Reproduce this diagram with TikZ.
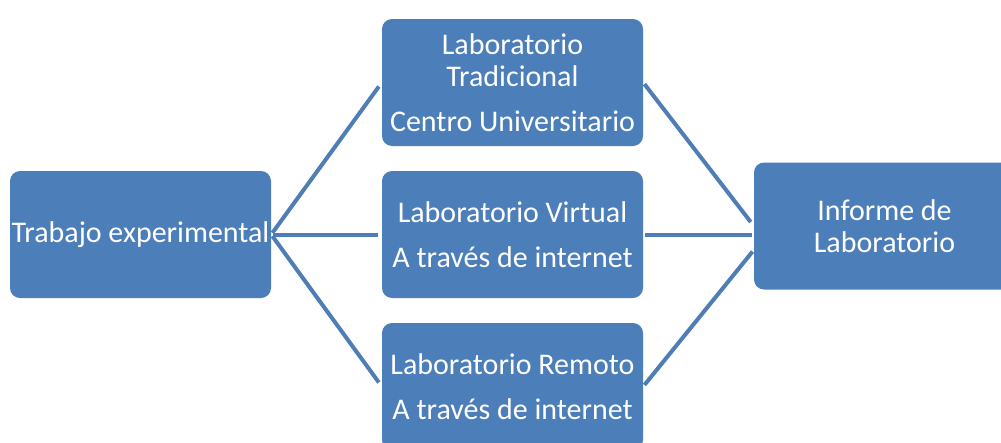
\documentclass[tikz,border=0pt]{standalone}
\usepackage{fontspec}
\setmainfont{Carlito}
\usetikzlibrary{calc}
\definecolor{boxblue}{HTML}{4C7EBA}
\definecolor{lineblue}{HTML}{4F7DB5}
\begin{document}
\begin{tikzpicture}[x=1pt,y=-1pt,
  box/.style={fill=boxblue, draw=none, rounded corners=10pt, minimum width=261pt, minimum height=127pt,
    text=white, align=center, inner sep=0pt, font=\fontsize{30}{32}\selectfont},
  link/.style={draw=lineblue, line width=4pt}]
\useasboundingbox (0,0) rectangle (1001,442);
\clip (0,0) rectangle (1001,442);
\node[box] (left) at (140.5,234.5) {Trabajo experimental};
\node[box] (top) at (512.5,82.5) {Laboratorio\\Tradicional\\[13pt]Centro Universitario};
\node[box] (mid) at (512.5,234.5) {Laboratorio Virtual\\[13pt]A través de internet};
\node[box] (bot) at (512.5,386.5) {Laboratorio Remoto\\[13pt]A través de internet};
\node[box] (right) at (884.5,226) {Informe de\\Laboratorio};
\draw[link, shorten <=2pt, shorten >=5pt] (left.east) -- (top.west);
\draw[link, shorten <=2pt, shorten >=4pt] (left.east) -- (left.east -| mid.west);
\draw[link, shorten <=2pt, shorten >=5pt] (left.east) -- (bot.west);
\draw[link, shorten <=2pt, shorten >=5pt] (top.east) -- (right.west);
\draw[link, shorten <=2pt, shorten >=2pt] (mid.east) -- (mid.east -| right.west);
\draw[link, shorten <=2pt, shorten >=2pt] (bot.east) -- ($(right.west)+(0,24)$);
\end{tikzpicture}
\end{document}
